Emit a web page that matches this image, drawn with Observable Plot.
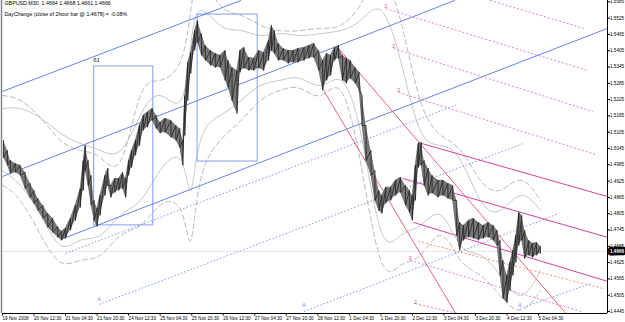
<!DOCTYPE html>
<html><head><meta charset="utf-8">
<script src="https://cdn.jsdelivr.net/npm/d3@7"></script>
<script src="https://cdn.jsdelivr.net/npm/@observablehq/plot@0.6"></script>
<style>html,body{margin:0;padding:0;background:#fff;} svg{display:block}</style>
</head><body><div id="chart"></div>
<script>
// ---- data ----
const xDomain = [0, 614];
const yDomain = [1.44376, 1.55898];
const xTickBars = [0,32,64,96,128,160,192,224,256,288,320,352,384,416,448,480,512,544];
const xTickLabels = ["19 Nov 2008","20 Nov 12:30","21 Nov 04:30","21 Nov 20:30","24 Nov 12:30","25 Nov 04:30","25 Nov 20:30","26 Nov 12:30","27 Nov 04:30","27 Nov 20:30","28 Nov 12:30","1 Dec 04:30","1 Dec 20:30","2 Dec 12:30","3 Dec 04:30","3 Dec 20:30","4 Dec 12:30","5 Dec 04:30"];
const yTicks = [1.4445,1.4505,1.4565,1.4625,1.4685,1.4745,1.4805,1.4865,1.4925,1.4985,1.5045,1.5105,1.5165,1.5225,1.5285,1.5345,1.5405,1.5465,1.5525,1.5585];
const lastPrice = 1.4666;

const priceBar = [1,5,8,13,18,23,28,32,36,41,46,51,56,60,64,69,74,79,82,84,87,90,93,96,99,104,107,110,114,118,122,125,128,131,135,139,143,147,152,156,160,165,171,176,180,183,185,188,191,195,198,202,206,211,216,221,226,229,233,238,241,245,250,255,260,265,270,273,276,280,285,290,295,300,306,311,316,321,325,329,333,337,341,345,349,353,358,362,365,369,374,378,382,385,389,394,399,404,409,413,416,419,422,425,428,432,436,442,447,452,457,461,464,468,473,478,483,488,493,498,502,505,508,512,515,518,521,524,527,530,534,538,542,546];
const priceHigh = [1.5075,1.5038,1.5001,1.4990,1.4983,1.4957,1.4917,1.4891,1.4861,1.4836,1.4806,1.4788,1.4758,1.4740,1.4751,1.4788,1.4836,1.4898,1.5001,1.5056,1.5001,1.4946,1.4854,1.4825,1.4872,1.4946,1.4972,1.4909,1.4935,1.4935,1.4957,1.4935,1.5001,1.5038,1.5075,1.5130,1.5167,1.5178,1.5193,1.5167,1.5141,1.5156,1.5148,1.5130,1.5119,1.5075,1.5240,1.5362,1.5398,1.5479,1.5516,1.5468,1.5424,1.5406,1.5395,1.5388,1.5406,1.5369,1.5343,1.5332,1.5406,1.5417,1.5380,1.5377,1.5406,1.5398,1.5443,1.5498,1.5479,1.5432,1.5413,1.5406,1.5406,1.5413,1.5417,1.5424,1.5432,1.5406,1.5369,1.5395,1.5388,1.5417,1.5424,1.5388,1.5377,1.5369,1.5343,1.5325,1.5240,1.5130,1.5038,1.4964,1.4891,1.4872,1.4902,1.4902,1.4928,1.4939,1.4909,1.4891,1.4872,1.4983,1.5064,1.5067,1.5001,1.4972,1.4946,1.4928,1.4928,1.4917,1.4909,1.4854,1.4773,1.4762,1.4780,1.4788,1.4773,1.4762,1.4773,1.4762,1.4744,1.4707,1.4633,1.4578,1.4626,1.4670,1.4725,1.4810,1.4799,1.4744,1.4707,1.4696,1.4699,1.4685];
const priceLow = [1.5012,1.4983,1.4953,1.4957,1.4946,1.4898,1.4865,1.4843,1.4817,1.4788,1.4755,1.4736,1.4718,1.4707,1.4714,1.4744,1.4780,1.4828,1.4891,1.4964,1.4909,1.4836,1.4780,1.4758,1.4799,1.4872,1.4909,1.4865,1.4883,1.4891,1.4898,1.4865,1.4946,1.4975,1.5020,1.5056,1.5112,1.5123,1.5148,1.5119,1.5101,1.5104,1.5086,1.5075,1.5049,1.4983,1.5093,1.5222,1.5321,1.5406,1.5435,1.5388,1.5369,1.5351,1.5343,1.5343,1.5296,1.5270,1.5222,1.5174,1.5325,1.5340,1.5332,1.5332,1.5340,1.5332,1.5369,1.5406,1.5395,1.5369,1.5369,1.5358,1.5362,1.5362,1.5369,1.5377,1.5380,1.5332,1.5259,1.5296,1.5314,1.5369,1.5377,1.5296,1.5285,1.5303,1.5285,1.5259,1.5130,1.5001,1.4946,1.4854,1.4817,1.4806,1.4843,1.4854,1.4872,1.4883,1.4836,1.4810,1.4780,1.4854,1.4975,1.4983,1.4909,1.4872,1.4880,1.4865,1.4872,1.4861,1.4854,1.4725,1.4670,1.4707,1.4718,1.4714,1.4707,1.4714,1.4718,1.4707,1.4688,1.4578,1.4493,1.4478,1.4523,1.4578,1.4626,1.4688,1.4707,1.4640,1.4652,1.4644,1.4652,1.4659];

const bandBar = [0,18,39,59,79,99,120,140,160,181,191,201,221,242,262,282,302,323,343,363,384,404,424,445,465,485,505,526,546];
const bandUpper = [1.5192,1.5192,1.5156,1.5101,1.5064,1.5038,1.5038,1.5167,1.5240,1.5222,1.5424,1.5553,1.5498,1.5479,1.5461,1.5468,1.5461,1.5468,1.5479,1.5516,1.5553,1.5369,1.5112,1.5056,1.5001,1.4854,1.4817,1.4872,1.4817];
const bandLower = [1.4964,1.4909,1.4799,1.4688,1.4707,1.4725,1.4799,1.4854,1.4964,1.5001,1.4891,1.5075,1.5167,1.5222,1.5277,1.5296,1.5303,1.5277,1.5296,1.5112,1.4744,1.4725,1.4762,1.4799,1.4688,1.4652,1.4578,1.4504,1.4596];
const outerUpper = [1.5240,1.5222,1.5156,1.5075,1.5038,1.5012,1.5001,1.5240,1.5296,1.5369,1.5553,1.5663,1.5572,1.5535,1.5498,1.5479,1.5479,1.5487,1.5498,1.5572,1.5663,1.5516,1.5222,1.5093,1.5038,1.4928,1.4891,1.4928,1.4854];
const outerLower = [1.4909,1.4854,1.4725,1.4626,1.4633,1.4652,1.4725,1.4762,1.4836,1.4817,1.4707,1.4928,1.5075,1.5148,1.5222,1.5259,1.5266,1.5240,1.5259,1.5001,1.4633,1.4615,1.4652,1.4725,1.4633,1.4578,1.4504,1.4449,1.4523];

// drawn objects: [bar1, price1, bar2, price2]
const blueChannel = [[0,1.5255,242,1.5590],[0,1.4942,459,1.5590],[59,1.4710,614,1.5487]];
const blueDotted = [[64,1.4659,460,1.5204],[98,1.4471,529,1.5064],[306,1.4445,565,1.4806],[525,1.4456,597,1.4548]];
const blueBoxes = [[93,1.5347,153,1.4762],[198,1.5538,259,1.4997]];
const boxLabel = [{bar:92, price:1.5365, text:"61"}];
const aMarkBar = [98,306,525];
const aMarkPrice = [1.4488,1.4469,1.4469];
const redLines = [[342,1.5409,572,1.4437],[326,1.5259,460,1.4437]];
const forkLines = [[422,1.5067,614,1.4868],[406,1.4935,614,1.4718],[417,1.4773,614,1.4556]];
const pinkDotted = [[495,1.5590,590,1.5487],[389,1.5560,594,1.5332],[397,1.5413,599,1.5181],[402,1.5251,602,1.5023],[414,1.4633,587,1.4445],[419,1.4474,462,1.4437]];
const orangeDotted = [[422,1.4703,609,1.4530]];
const pinkMarkBar = [389,397,402,414,419];
const pinkMarkPrice = [1.5568,1.5420,1.5258,1.4640,1.4480];
const headerLines = ["GBPUSD,M30  1.4664 1.4668 1.4661 1.4666", "DayChange (close of 2hour bar @ 1.4678) = -0.08%"];

// ---- tables ----
const price = priceBar.map((b,i)=>({b, hi:priceHigh[i], lo:priceLow[i]}));
const zig = price.flatMap(d => [{b:d.b, p:d.hi}, {b:d.b, p:d.lo}]);
const bands = bandBar.map((b,i)=>({b, su:bandUpper[i], sl:bandLower[i], du:outerUpper[i], dl:outerLower[i]}));
const seg = a => a.map(([x1,y1,x2,y2])=>({x1,y1,x2,y2}));
const boxes = blueBoxes.map(([x1,y1,x2,y2])=>({x1,y1,x2,y2}));
const aMarks = aMarkBar.map((b,i)=>({b, p:aMarkPrice[i]}));
const pMarks = pinkMarkBar.map((b,i)=>({b, p:pinkMarkPrice[i]}));
const font = "'Liberation Sans', Arial, sans-serif";

const chart = Plot.plot({
  width: 625, height: 322,
  marginLeft: 2, marginRight: 18, marginTop: 0, marginBottom: 9,
  style: {fontFamily: font, fontSize: "5px", background: "#fff", color: "#000"},
  x: {domain: xDomain},
  y: {domain: yDomain},
  marks: [
    Plot.ruleY([lastPrice], {stroke: "#e4e4f4", strokeWidth: 1}),
    // indicator bands
    Plot.line(bands, {x: "b", y: "su", stroke: "#b8b8b8", strokeWidth: 0.8, curve: "natural", clip: true}),
    Plot.line(bands, {x: "b", y: "sl", stroke: "#b8b8b8", strokeWidth: 0.8, curve: "natural", clip: true}),
    Plot.line(bands, {x: "b", y: "du", stroke: "#a8a8a8", strokeWidth: 0.8, strokeDasharray: "5,3", curve: "natural", clip: true}),
    Plot.line(bands, {x: "b", y: "dl", stroke: "#a8a8a8", strokeWidth: 0.8, strokeDasharray: "5,3", curve: "natural", clip: true}),
    // objects
    Plot.rect(boxes, {x1: "x1", x2: "x2", y1: "y1", y2: "y2", fill: "none", stroke: "#8ea6f2", strokeWidth: 1.1}),
    Plot.link(seg(blueChannel), {x1: "x1", y1: "y1", x2: "x2", y2: "y2", stroke: "#5076e6", strokeWidth: 0.9, clip: true}),
    Plot.link(seg(blueDotted), {x1: "x1", y1: "y1", x2: "x2", y2: "y2", stroke: "#6a8cf0", strokeWidth: 0.9, strokeDasharray: "1.5,2", clip: true}),
    Plot.link(seg(redLines), {x1: "x1", y1: "y1", x2: "x2", y2: "y2", stroke: "#e8506c", strokeWidth: 0.9, clip: true}),
    Plot.link(seg(forkLines), {x1: "x1", y1: "y1", x2: "x2", y2: "y2", stroke: "#d83fa6", strokeWidth: 1, clip: true}),
    Plot.link(seg(pinkDotted), {x1: "x1", y1: "y1", x2: "x2", y2: "y2", stroke: "#e071c8", strokeWidth: 0.9, strokeDasharray: "2,2", clip: true}),
    Plot.link(seg(orangeDotted), {x1: "x1", y1: "y1", x2: "x2", y2: "y2", stroke: "#f48a5a", strokeWidth: 0.9, strokeDasharray: "2,2", clip: true}),
    // price bars
    Plot.areaY(price, {x: "b", y1: "lo", y2: "hi", fill: "#777", curve: "linear"}),
    Plot.line(zig, {x: "b", y: "p", stroke: "#222", strokeWidth: 0.8, curve: "linear"}),
    // markers & labels
    Plot.text(boxLabel, {x: "bar", y: "price", text: "text", textAnchor: "start", lineAnchor: "bottom", fontSize: 6, fill: "#222"}),
    Plot.text(aMarks, {x: "b", y: "p", text: () => "A", fontSize: 5, fill: "#6a8cf0"}),
    Plot.text(pMarks, {x: "b", y: "p", text: () => "2", fontSize: 5, fill: "#d83fa6"}),
    Plot.text([headerLines[0]], {frameAnchor: "top-left", dx: 2, dy: 1, textAnchor: "start", lineAnchor: "top", fontSize: 5.3, fill: "#000"}),
    Plot.text(["- - - - - - - - - - - - - - - - - - - - - - - - - - - - - - -"], {frameAnchor: "top-left", dx: 2, dy: 6, textAnchor: "start", lineAnchor: "top", fontSize: 4, fill: "#999"}),
    Plot.text([headerLines[1]], {frameAnchor: "top-left", dx: 2, dy: 11.5, textAnchor: "start", lineAnchor: "top", fontSize: 5.3, fill: "#000"}),
    // frame & axes
    Plot.ruleX([xDomain[0]], {stroke: "#888", strokeWidth: 1.5, dx: -1}),
    Plot.ruleY([yDomain[0]], {stroke: "#000", strokeWidth: 1}),
    Plot.ruleX([xDomain[1]], {stroke: "#000", strokeWidth: 1}),
    Plot.axisX(xTickBars, {anchor: "bottom", tickSize: 2.5, tickPadding: 0.5, textAnchor: "start", fontSize: 4.6, tickFormat: d => xTickLabels[xTickBars.indexOf(d)], label: null}),
    Plot.axisY(yTicks, {anchor: "right", tickSize: 2, tickPadding: 0.5, fontSize: 4.6, tickFormat: d => d.toFixed(4), label: null}),
    Plot.text([lastPrice], {y: d => d, frameAnchor: "right", dx: 2.5, textAnchor: "start", text: d => d.toFixed(4), fill: "#fff", stroke: "#000", strokeWidth: 5, fontSize: 4.6, fontWeight: "bold"})
  ]
});
document.getElementById("chart").append(chart);
</script>
</body></html>
